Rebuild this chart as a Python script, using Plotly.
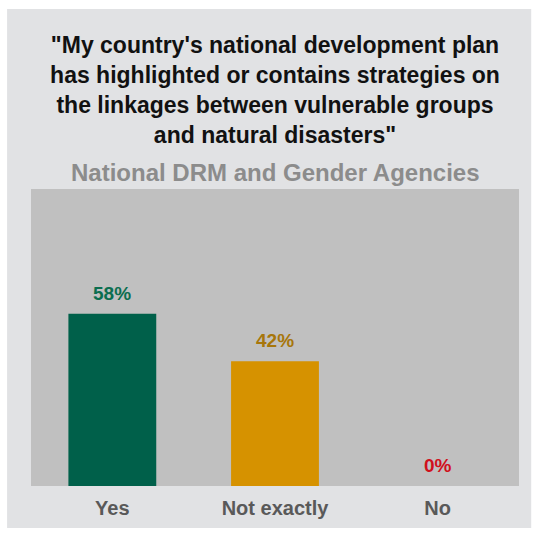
import plotly.graph_objects as go

# Survey responses (share of agencies, %)
categories = ["Yes", "Not exactly", "No"]
shares = [58, 42, 0]
bar_colors = ["#00604A", "#D69200", "#C00000"]
label_colors = ["#0B6E4F", "#A7760B", "#D0101C"]

title_lines = [
    "\"My country's national development plan",
    "has highlighted or contains strategies on",
    "the linkages between vulnerable groups",
    "and natural disasters\"",
]
subtitle = "National DRM and Gender Agencies"

FONT = "Liberation Sans, Arial, sans-serif"

fig = go.Figure(
    go.Bar(
        x=categories,
        y=shares,
        marker=dict(color=bar_colors, line=dict(width=0)),
        width=0.54,
        hoverinfo="skip",
    )
)

# Percentage labels above each bar
annotations = []
for cat, val, col in zip(categories, shares, label_colors):
    annotations.append(
        dict(
            x=cat, y=val, xref="x", yref="y",
            text=f"{val}%", showarrow=False,
            yanchor="bottom", yshift=8,
            font=dict(family=FONT, size=19, color=col, weight="bold"),
        )
    )

# Panel subtitle
annotations.append(
    dict(
        x=0.5, y=1.057, xref="paper", yref="paper",
        text=subtitle, showarrow=False, yanchor="middle",
        font=dict(family=FONT, size=24, color="#8C8C8C", weight="bold"),
    )
)

fig.update_layout(
    width=533,
    height=533,
    margin=dict(l=31, r=14, t=189, b=47),
    paper_bgcolor="#FFFFFF",
    plot_bgcolor="#C0C0C0",
    showlegend=False,
    title=dict(
        text="<br>".join(title_lines),
        x=0.5, xref="paper", xanchor="center",
        y=1 - 53 / 533, yref="container", yanchor="top",
        font=dict(family=FONT, size=23, color="#111111", weight="bold"),
    ),
    annotations=annotations,
    shapes=[
        # light card behind the whole chart
        dict(
            type="rect", xref="paper", yref="paper", layer="below",
            x0=-0.049, x1=1.025, y0=-0.141, y1=1.606,
            fillcolor="#E1E2E4", line=dict(width=0),
        ),
        # darker plotting panel
        dict(
            type="rect", xref="paper", yref="paper", layer="below",
            x0=0, x1=1, y0=0, y1=1,
            fillcolor="#C0C0C0", line=dict(width=0),
        ),
    ],
    xaxis=dict(
        showgrid=False, zeroline=False, showline=False, ticks="",
        tickfont=dict(family=FONT, size=20, color="#595959", weight="bold"),
        ticklabelstandoff=8,
    ),
    yaxis=dict(
        range=[0, 100], visible=False, showgrid=False, zeroline=False,
    ),
)

fig.write_html("out.html")
